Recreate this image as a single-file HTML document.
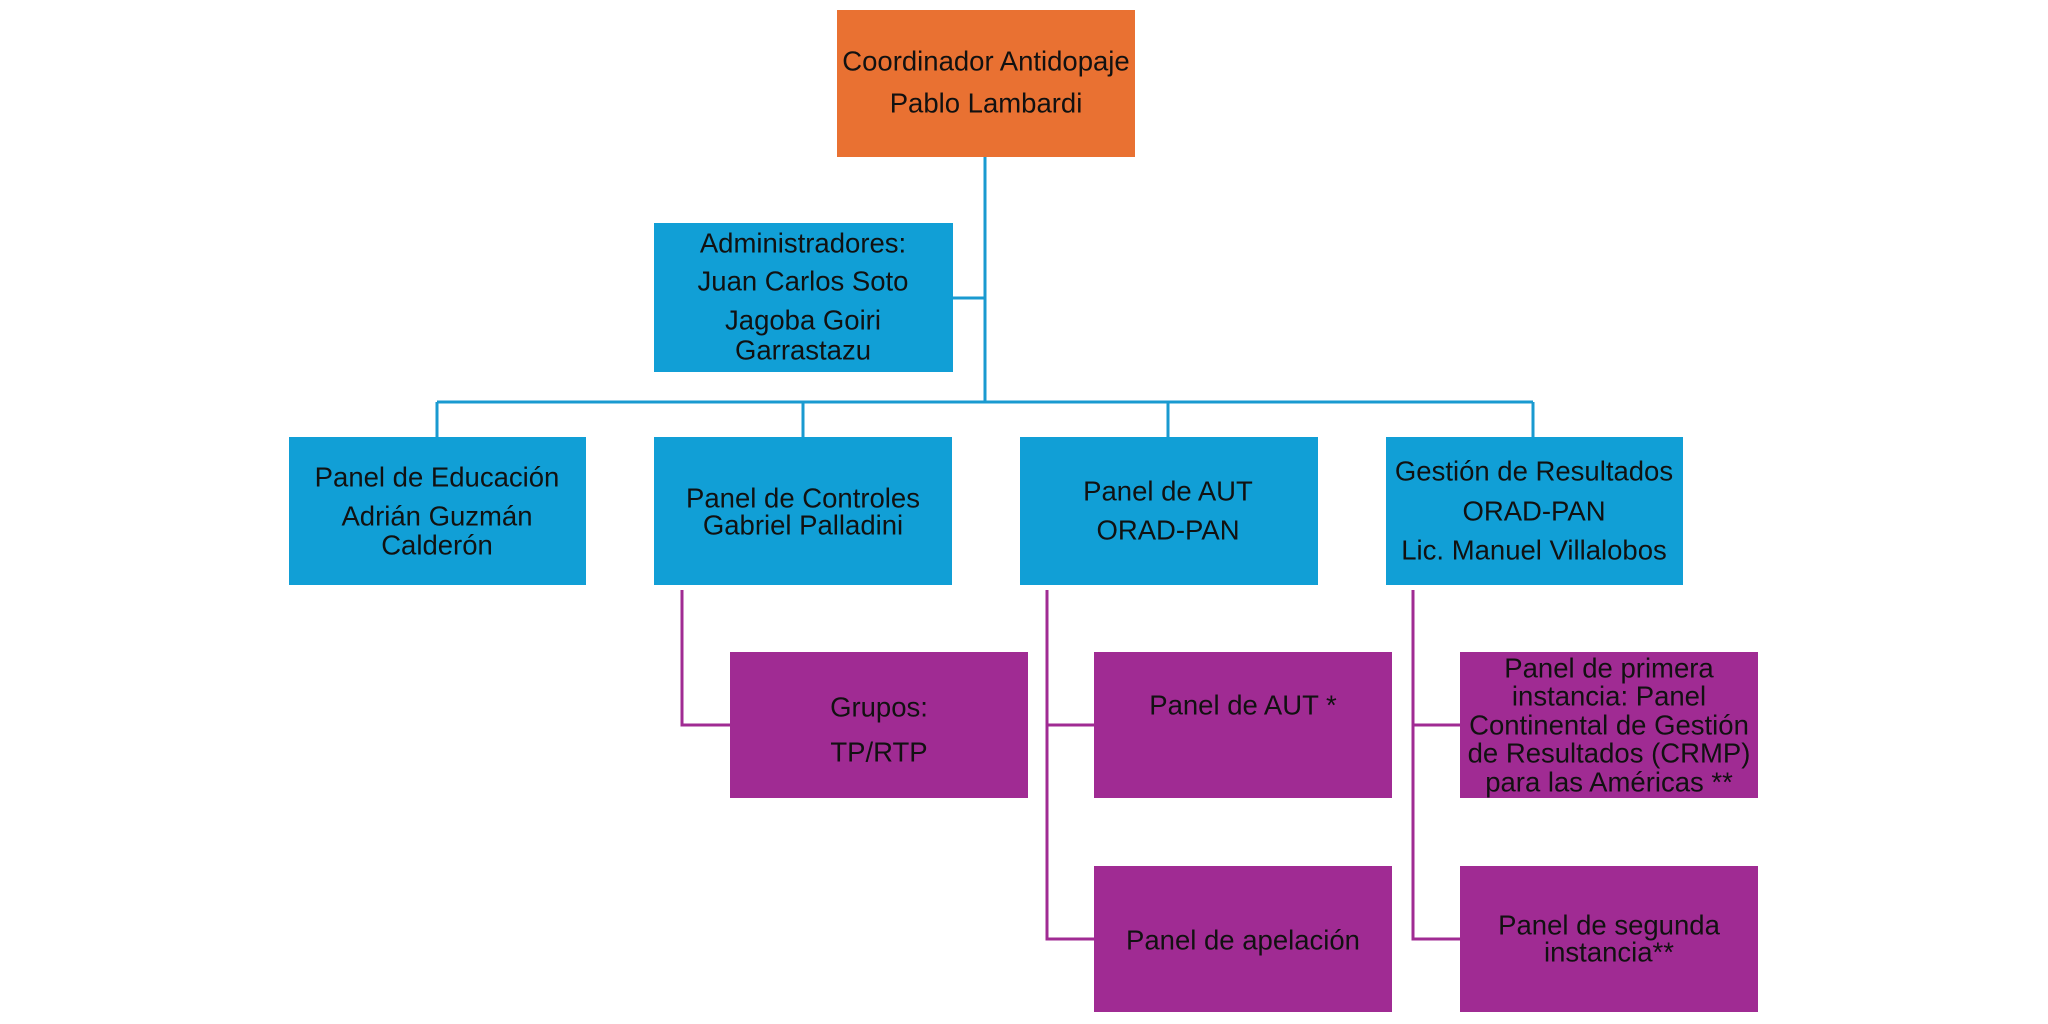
<!DOCTYPE html>
<html><head><meta charset="utf-8"><style>
body{margin:0;width:2048px;height:1024px;background:#fff;position:relative;overflow:hidden;font-family:"Liberation Sans",sans-serif;}
.b{position:absolute;}
.t{position:absolute;font-size:27.5px;color:#111;text-align:center;white-space:nowrap;transform:translate(-50%,-50%);line-height:1;}
</style></head><body>
<svg class="b" style="left:0;top:0" width="2048" height="1024">
<g stroke="#1A9AD0" stroke-width="3" fill="none">
<line x1="985" y1="157" x2="985" y2="402"/>
<line x1="953" y1="298" x2="985" y2="298"/>
<line x1="437" y1="402" x2="1533" y2="402"/>
<line x1="437" y1="402" x2="437" y2="437"/>
<line x1="803" y1="402" x2="803" y2="437"/>
<line x1="1168" y1="402" x2="1168" y2="437"/>
<line x1="1533" y1="402" x2="1533" y2="437"/>
</g>
<g stroke="#A02B93" stroke-width="3" fill="none">
<polyline points="682,590 682,725 730,725"/>
<polyline points="1047,590 1047,939 1094,939"/>
<line x1="1047" y1="725" x2="1094" y2="725"/>
<polyline points="1413,590 1413,939 1460,939"/>
<line x1="1413" y1="725" x2="1460" y2="725"/>
</g>
<rect x="837" y="10" width="298" height="147" fill="#E97132"/>
<rect x="654" y="223" width="299" height="149" fill="#119FD6"/>
<rect x="289" y="437" width="297" height="148" fill="#119FD6"/>
<rect x="654" y="437" width="298" height="148" fill="#119FD6"/>
<rect x="1020" y="437" width="298" height="148" fill="#119FD6"/>
<rect x="1386" y="437" width="297" height="148" fill="#119FD6"/>
<rect x="730" y="652" width="298" height="146" fill="#A02B93"/>
<rect x="1094" y="652" width="298" height="146" fill="#A02B93"/>
<rect x="1460" y="652" width="298" height="146" fill="#A02B93"/>
<rect x="1094" y="866" width="298" height="146" fill="#A02B93"/>
<rect x="1460" y="866" width="298" height="146" fill="#A02B93"/>
</svg>
<div class="t" style="left:986px;top:61px">Coordinador Antidopaje</div>
<div class="t" style="left:986px;top:103px">Pablo Lambardi</div>
<div class="t" style="left:803px;top:243px">Administradores:</div>
<div class="t" style="left:803px;top:281px">Juan Carlos Soto</div>
<div class="t" style="left:803px;top:320px">Jagoba Goiri</div>
<div class="t" style="left:803px;top:350px">Garrastazu</div>
<div class="t" style="left:437px;top:477px">Panel de Educación</div>
<div class="t" style="left:437px;top:516px">Adrián Guzmán</div>
<div class="t" style="left:437px;top:545px">Calderón</div>
<div class="t" style="left:803px;top:498px">Panel de Controles</div>
<div class="t" style="left:803px;top:525px">Gabriel Palladini</div>
<div class="t" style="left:1168px;top:491px">Panel de AUT</div>
<div class="t" style="left:1168px;top:530px">ORAD-PAN</div>
<div class="t" style="left:1534px;top:471px">Gestión de Resultados</div>
<div class="t" style="left:1534px;top:511px">ORAD-PAN</div>
<div class="t" style="left:1534px;top:550px">Lic. Manuel Villalobos</div>
<div class="t" style="left:879px;top:707px">Grupos:</div>
<div class="t" style="left:879px;top:752px">TP/RTP</div>
<div class="t" style="left:1243px;top:705px">Panel de AUT *</div>
<div class="t" style="left:1243px;top:940px">Panel de apelación</div>
<div class="t" style="left:1609px;top:668px">Panel de primera</div>
<div class="t" style="left:1609px;top:696px">instancia: Panel</div>
<div class="t" style="left:1609px;top:725px">Continental de Gestión</div>
<div class="t" style="left:1609px;top:753px">de Resultados (CRMP)</div>
<div class="t" style="left:1609px;top:782px">para las Américas **</div>
<div class="t" style="left:1609px;top:925px">Panel de segunda</div>
<div class="t" style="left:1609px;top:952px">instancia**</div>
</body></html>
